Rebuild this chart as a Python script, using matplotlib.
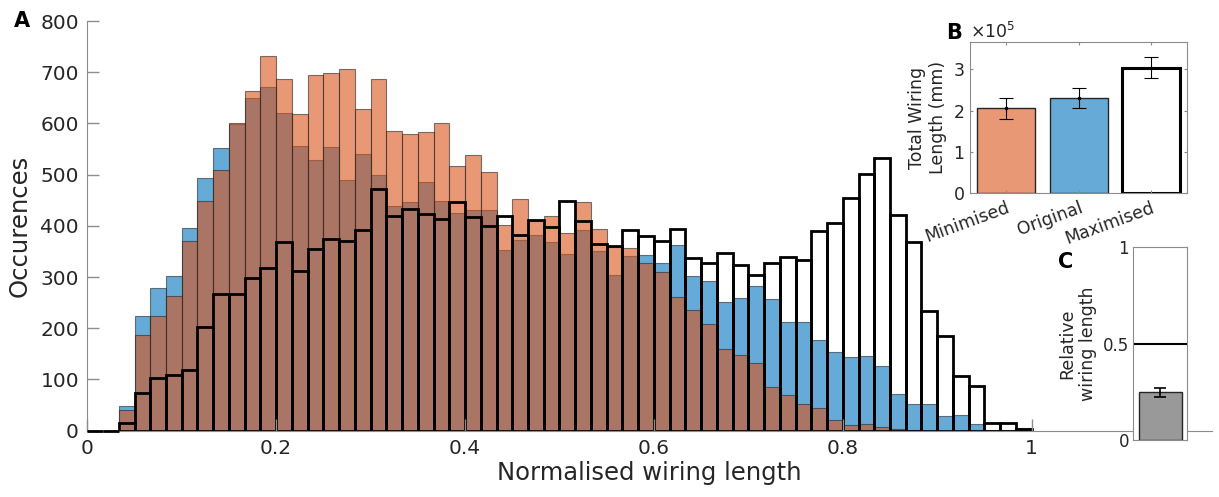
import numpy as np
import matplotlib
matplotlib.use('Agg')
import matplotlib.pyplot as plt

# histogram counts per bin (60 bins over 0..1)
minimised = [0, 0, 41, 186, 224, 264, 371, 449, 509, 600, 663, 732, 686, 618, 694,
             699, 706, 629, 687, 585, 580, 583, 600, 517, 539, 505, 401, 453, 410, 420,
             387, 447, 393, 358, 356, 327, 309, 261, 235, 209, 159, 147, 133, 85, 69,
             53, 44, 21, 12, 13, 8, 3, 1, 0, 0, 0, 0, 0, 0, 0]
original = [0, 0, 49, 224, 279, 302, 395, 493, 552, 598, 650, 671, 621, 555, 529,
            554, 489, 540, 500, 438, 446, 486, 448, 425, 430, 430, 353, 373, 382, 368,
            345, 392, 351, 304, 341, 343, 327, 362, 302, 293, 252, 259, 283, 257, 213,
            212, 178, 153, 144, 145, 127, 72, 52, 52, 28, 31, 13, 2, 2, 5]
maximised = [0, 0, 16, 73, 102, 109, 119, 202, 266, 267, 298, 317, 368, 311, 354,
             375, 371, 391, 472, 420, 432, 423, 414, 446, 418, 399, 420, 382, 412, 398,
             448, 410, 364, 360, 391, 380, 370, 393, 337, 328, 347, 323, 304, 328, 340,
             334, 389, 405, 454, 501, 532, 421, 369, 233, 185, 107, 88, 15, 15, 3]

# total wiring length per condition (mm) with spread
totals_names = ['Minimised', 'Original', 'Maximised']
totals_mean = [2.06e5, 2.30e5, 3.04e5]
totals_err = [0.25e5, 0.24e5, 0.25e5]

# relative wiring length
relative_mean = 0.247
relative_err = 0.022

blue = (0.0, 0.447, 0.741)
orange = (0.85, 0.325, 0.098)
text_col = '#262626'
spine_col = '#8c8c8c'

plt.rcParams['font.family'] = 'DejaVu Sans'

fig = plt.figure(figsize=(12.19, 4.97), dpi=100)

# --- A: histograms ---
ax = fig.add_axes([0.0716, 0.1334, 0.9227, 0.8243])
edges = np.linspace(0, 1, len(minimised) + 1)
w = edges[1] - edges[0]
ax.bar(edges[:-1], original, width=w, align='edge',
       facecolor=blue + (0.6,), edgecolor=(0.15, 0.15, 0.15, 0.6), linewidth=0.8)
ax.bar(edges[:-1], minimised, width=w, align='edge',
       facecolor=orange + (0.6,), edgecolor=(0.15, 0.15, 0.15, 0.6), linewidth=0.8)
max_bars = ax.bar(edges[:-1], maximised, width=w, align='edge',
                  fill=False, edgecolor='black', linewidth=2.0)
# empty bins show up as a flat black line on the axis
for p, n in zip(max_bars, maximised):
    if n == 0:
        p.set_zorder(3)
        p.set_clip_on(False)

ax.set_xlim(0, 1.191)
ax.set_ylim(0, 800)
ax.set_xticks(np.arange(0, 1.01, 0.2))
ax.set_xticklabels(['0', '0.2', '0.4', '0.6', '0.8', '1'])
ax.set_yticks(np.arange(0, 801, 100))
for s in ['top', 'right']:
    ax.spines[s].set_visible(False)
for s in ['left', 'bottom']:
    ax.spines[s].set_color(spine_col)
ax.tick_params(direction='in', length=8.6, width=1, color=spine_col,
               labelsize=14.5, labelcolor=text_col, pad=6)
ax.set_xlabel('Normalised wiring length', fontsize=17.5, color=text_col, labelpad=2)
ax.set_ylabel('Occurences', fontsize=17.5, color=text_col, labelpad=6)
fig.text(0.011, 0.945, 'A', fontsize=15, fontweight='bold', color='black')

# --- B: total wiring length ---
axb = fig.add_axes([0.7957, 0.611, 0.1783, 0.305])
pos = np.arange(1, 4)
axb.bar(pos, totals_mean, width=0.8,
        color=[tuple(1 - 0.6 * (1 - np.array(orange))), tuple(1 - 0.6 * (1 - np.array(blue))), 'white'],
        edgecolor=[text_col, text_col, 'black'], linewidth=[1.0, 1.0, 2.2])
axb.errorbar(pos, totals_mean, yerr=totals_err, fmt='.', color='black',
             markersize=3, capsize=5, elinewidth=0.8, capthick=0.8)
axb.set_xlim(0.5, 3.5)
axb.set_ylim(0, 3.67e5)
axb.set_yticks([0, 1e5, 2e5, 3e5])
axb.set_xticks(pos)
axb.set_xticklabels(totals_names, rotation=20, ha='right', rotation_mode='anchor')
axb.ticklabel_format(axis='y', style='sci', scilimits=(5, 5), useMathText=True)
axb.yaxis.get_offset_text().set_fontsize(12.5)
axb.yaxis.get_offset_text().set_color(text_col)
for s in axb.spines.values():
    s.set_color(spine_col)
axb.tick_params(direction='in', length=2.5, color=spine_col, labelsize=12.5,
                labelcolor=text_col, top=True, right=True, pad=4)
axb.set_ylabel('Total Wiring\nLength (mm)', fontsize=12.5, color=text_col, labelpad=4)
fig.text(0.776, 0.922, 'B', fontsize=15, fontweight='bold', color='black')

# --- C: relative wiring length ---
axc = fig.add_axes([0.9297, 0.1147, 0.0443, 0.3877])
axc.bar([1], [relative_mean], width=0.8, color='#999999', edgecolor=text_col, linewidth=1.0)
axc.errorbar([1], [relative_mean], yerr=[relative_err], fmt='none', ecolor='black',
             capsize=4, elinewidth=1.2, capthick=1.2)
axc.axhline(0.5, color='black', linewidth=1.5)
axc.set_xlim(0.5, 1.5)
axc.set_ylim(0, 1)
axc.set_xticks([])
axc.set_yticks([0, 0.5, 1])
axc.set_yticklabels(['0', '0.5', '1'])
for s in axc.spines.values():
    s.set_color(spine_col)
axc.tick_params(direction='in', length=0, labelsize=12, labelcolor=text_col, pad=3)
axc.set_ylabel('Relative\nwiring length', fontsize=12.5, color=text_col, labelpad=4)
fig.text(0.868, 0.46, 'C', fontsize=15, fontweight='bold', color='black')

fig.savefig('out.png', dpi=100)
